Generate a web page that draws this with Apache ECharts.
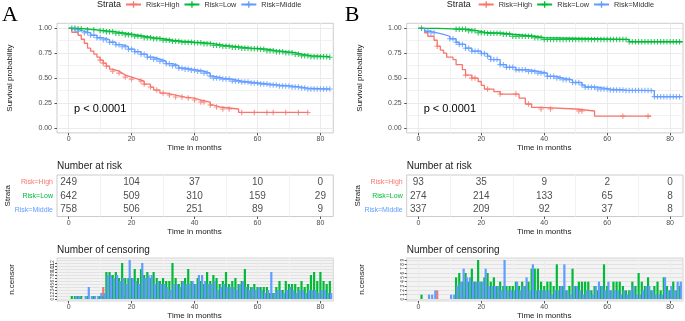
<!DOCTYPE html>
<html>
<head>
<meta charset="utf-8">
<script src="https://cdn.jsdelivr.net/npm/echarts@6/dist/echarts.min.js"></script>
<style>
html,body{margin:0;padding:0;background:#fff;}
#chart{width:685px;height:321px;}
</style>
</head>
<body>
<div id="chart"></div>
<script>
//分组与颜色
var strata = ['Risk=High', 'Risk=Low', 'Risk=Middle'];
var strataColor = ['#F8766D', '#00BA38', '#619CFF'];
var riskTimes = [0, 20, 40, 60, 80];

//A 组生存曲线 [月, 生存率]
var kmA_high = [[0,1],[1,0.96],[3,0.93],[4,0.89],[5,0.85],[6,0.80],[7,0.77],[8,0.74],[9,0.71],[10,0.68],[11,0.65],[12,0.62],[13,0.59],[14,0.57],[16,0.55],[17,0.53],[18,0.51],[20,0.49],[22,0.47],[24,0.44],[26,0.41],[27,0.38],[29,0.35],[31,0.33],[34,0.31],[37,0.30],[40,0.28],[42,0.26],[45,0.23],[46,0.21],[48,0.19],[54,0.155],[76,0.155]];
var kmA_low = [[0,1],[3,0.995],[6,0.985],[9,0.975],[12,0.965],[15,0.95],[18,0.935],[21,0.92],[24,0.905],[27,0.895],[30,0.88],[33,0.87],[36,0.86],[40,0.855],[43,0.845],[46,0.83],[49,0.82],[52,0.81],[55,0.80],[58,0.795],[61,0.79],[63,0.775],[66,0.765],[69,0.755],[72,0.74],[74,0.725],[77,0.715],[83,0.71]];
var kmA_mid = [[0,1],[1,0.99],[3,0.97],[5,0.955],[7,0.93],[9,0.905],[11,0.885],[13,0.86],[15,0.835],[17,0.815],[19,0.79],[21,0.765],[23,0.74],[25,0.71],[27,0.69],[29,0.67],[31,0.645],[33,0.625],[35,0.60],[37,0.59],[39,0.58],[41,0.57],[43,0.55],[45,0.52],[46,0.50],[49,0.49],[52,0.47],[55,0.46],[58,0.45],[61,0.44],[64,0.43],[67,0.42],[71,0.41],[74,0.40],[76,0.39],[83,0.39]];

//B 组生存曲线
var kmB_high = [[0,1],[2,0.955],[3,0.92],[5,0.88],[6,0.82],[7,0.78],[8,0.75],[9,0.71],[11,0.686],[12,0.635],[14,0.585],[15,0.53],[17,0.50],[19,0.466],[20,0.426],[21,0.39],[24,0.365],[26,0.34],[32,0.30],[34,0.24],[36,0.206],[39,0.19],[50,0.17],[56,0.118],[74,0.118]];
var kmB_low = [[0,1],[6,0.99],[16,0.975],[19,0.955],[22,0.95],[27,0.94],[30,0.92],[37,0.905],[40,0.888],[67,0.865],[84,0.865]];
var kmB_mid = [[0,1],[2,0.97],[4,0.955],[6,0.94],[8,0.92],[10,0.895],[12,0.86],[13,0.838],[15,0.80],[17,0.77],[20,0.747],[22,0.72],[23,0.686],[26,0.635],[28,0.608],[31,0.584],[35,0.567],[38,0.55],[41,0.517],[44,0.50],[46,0.483],[49,0.456],[52,0.43],[53,0.409],[57,0.39],[61,0.38],[66,0.375],[75,0.314],[84,0.31]];

//风险人数表
var riskA_high = [249, 104, 37, 10, 0];
var riskA_low = [642, 509, 310, 159, 29];
var riskA_mid = [758, 506, 251, 89, 9];
var riskB_high = [93, 35, 9, 2, 0];
var riskB_low = [274, 214, 133, 65, 8];
var riskB_mid = [337, 209, 92, 37, 8];

//删失人数，下标为月份 0-83
var censA_high = [0,0,0,0,0,0,0,0,0,0,1,4,1,0,1,0,1,0,1,0,1,0,0,1,1,0,1,0,1,0,1,0,1,0,1,0,1,0,1,0,1,0,1,1,0,1,0,1,0,1,0,1,0,0,0,1,0,0,0,1,0,0,0,1,0,1,0,0,0,1,0,0,0,1,0,0,1,0,0,0,0,0,0,0];
var censA_low = [0,1,1,1,1,0,1,0,1,0,1,1,9,9,8,9,7,12,7,7,7,10,7,10,8,9,7,9,7,6,7,6,6,12,7,5,6,7,10,6,5,7,6,5,9,6,8,7,5,6,9,5,6,7,5,6,10,5,4,5,4,4,4,4,2,2,4,6,3,6,5,5,5,4,6,4,5,8,9,6,9,6,5,6];
var censA_mid = [0,0,1,1,0,1,4,1,1,1,2,2,8,8,7,8,6,7,5,13,7,6,5,12,7,8,8,5,6,5,5,4,3,5,5,4,6,5,5,6,5,8,8,6,5,5,6,3,4,5,4,4,4,3,5,6,4,3,4,3,4,3,2,3,9,2,3,3,2,3,4,3,2,3,3,2,3,3,3,2,3,3,2,2];
var censB_high = [0,0,0,0,0,0,2,0,0,0,0,0,0,0,0,1,0,1,1,0,0,0,3,0,0,0,1,0,0,0,0,1,0,0,0,1,0,0,0,2,0,0,1,0,0,0,0,0,0,0,0,1,1,0,0,0,0,0,0,0,0,0,0,0,0,1,0,0,0,0,0,0,0,1,0,0,0,0,0,0,0,0,0,0];
var censB_low = [0,1,0,0,0,0,0,0,0,0,0,0,5,6,4,6,4,7,4,9,4,5,6,4,5,3,4,3,3,3,3,4,3,4,3,4,7,7,7,4,3,4,4,3,8,3,3,2,3,7,3,4,4,4,4,2,3,2,3,8,3,2,4,4,4,3,2,2,4,3,6,4,3,5,2,3,4,2,5,3,2,4,2,3];
var censB_mid = [0,0,0,1,1,2,0,0,0,0,1,1,3,4,7,5,5,4,4,4,4,7,3,3,3,3,2,9,2,2,2,4,2,3,5,2,8,2,2,2,2,2,1,2,2,3,8,2,1,3,3,2,1,2,2,1,3,4,3,2,4,2,2,2,1,2,1,2,3,1,1,2,3,3,2,1,1,1,5,2,3,2,4,4];

var XMIN = -3.7, XMAX = 84.1;
var FONT = '"Liberation Sans", Arial, sans-serif';
var plusPath = 'path://M0,2.4H6V3.6H0Z M2.4,0H3.6V6H2.4Z';
var gridColor = '#ebebeb';

var option = {
	animation: false,
	backgroundColor: '#ffffff',
	textStyle: { fontFamily: FONT },
	grid: [], xAxis: [], yAxis: [], series: [], legend: [], graphic: []
};

/*
 * 阶梯曲线在某时刻的取值
 */
function survAt(curve, t){
	var s = curve[0][1];
	for (var i = 0; i < curve.length; i++){
		if (curve[i][0] <= t) s = curve[i][1];
	}
	return s;
}
function censorMarks(curve, counts){
	var out = [], end = curve[curve.length - 1][0];
	for (var t = 0; t < counts.length; t++){
		if (counts[t] > 0 && t <= end) out.push([t, survAt(curve, t)]);
	}
	return out;
}
function censorBars(counts, shift){
	var out = [];
	for (var t = 0; t < counts.length; t++){
		if (counts[t] > 0) out.push([t + shift, counts[t]]);
	}
	return out;
}
function addAxes(rect, extra, xa, ya){
	var gi = option.grid.length;
	var g = { left: rect[0], top: rect[1], width: rect[2], height: rect[3], outerBoundsMode: 'none' };
	for (var k in (extra || {})) g[k] = extra[k];
	option.grid.push(g);
	xa.gridIndex = gi; ya.gridIndex = gi;
	option.xAxis.push(xa); option.yAxis.push(ya);
	return gi;
}
function hidden(min, max){
	var a = { type: 'value', show: false };
	if (min !== undefined){ a.min = min; a.max = max; }
	return a;
}
function timeAxis(showMajor){
	return {
		type: 'value', min: 0, max: 80, interval: 20, position: 'bottom', z: 1,
		axisLine: { show: false },
		axisTick: { show: true, length: 2.5, lineStyle: { color: '#555' } },
		axisLabel: { fontSize: 7, color: '#4d4d4d', margin: 3 },
		splitLine: { show: showMajor, lineStyle: { color: gridColor, width: 1 } },
		minorTick: { show: false, splitNumber: 2 },
		minorSplitLine: { show: true, lineStyle: { color: '#f2f2f2', width: 1 } },
		name: 'Time in months', nameLocation: 'middle', nameGap: 11, nameMoveOverlap: false,
		nameTextStyle: { fontSize: 8, color: '#1a1a1a' }
	};
}

function buildPanel(dx, letter, km, risk, cens, censMax){
	var FL = 57 + dx, FW = 276.3;
	var xpx = function(v){ return FL + (v - XMIN) / (XMAX - XMIN) * FW; };
	var x0 = xpx(0), w80 = xpx(80) - x0;
	var frameStyle = { show: true, borderColor: '#cccccc', borderWidth: 1, backgroundColor: '#fff' };

	//生存曲线
	var kmTop = 23.3, kmH = 109.6;
	var gKm = addAxes([FL, kmTop, FW, kmH], frameStyle, hidden(XMIN, XMAX), hidden(-0.05, 1.05));
	addAxes([x0, kmTop, w80, kmH], null, timeAxis(true), hidden());
	addAxes([FL, kmTop + kmH * 0.05 / 1.1, FW, kmH / 1.1], null, hidden(), {
		type: 'value', min: 0, max: 1, interval: 0.25, z: 1,
		axisLine: { show: false },
		axisTick: { show: true, length: 2.5, lineStyle: { color: '#555' } },
		axisLabel: { fontSize: 7, color: '#4d4d4d', margin: 5, formatter: function(v){ return v.toFixed(2); } },
		splitLine: { show: true, lineStyle: { color: gridColor } },
		minorTick: { show: false, splitNumber: 2 },
		minorSplitLine: { show: true, lineStyle: { color: '#f2f2f2' } },
		name: 'Survival probability', nameLocation: 'middle', nameGap: 43, nameMoveOverlap: false,
		nameTextStyle: { fontSize: 8, color: '#1a1a1a' }
	});
	for (var i = 0; i < 3; i++){
		option.series.push({
			type: 'line', name: strata[i], step: 'end', data: km[i],
			xAxisIndex: gKm, yAxisIndex: gKm,
			symbol: plusPath, symbolSize: 6, showSymbol: false,
			lineStyle: { width: 1.3, color: strataColor[i] },
			itemStyle: { color: strataColor[i] }, z: 3
		});
	}
	for (var i = 0; i < 3; i++){
		option.series.push({
			type: 'scatter', name: 'mark' + letter + i, data: censorMarks(km[i], cens[i]),
			xAxisIndex: gKm, yAxisIndex: gKm,
			symbol: plusPath, symbolSize: 5.5,
			itemStyle: { color: strataColor[i] }, z: 4
		});
	}

	//风险人数表
	var rTop = 175, rH = 41.5;
	var gRisk = addAxes([FL, rTop, FW, rH], frameStyle, hidden(XMIN, XMAX), {
		type: 'category', data: strata, inverse: true,
		axisLine: { show: false }, axisTick: { show: false },
		axisLabel: { fontSize: 7, margin: 4, color: function(v, idx){ return strataColor[strata.indexOf(v)]; } },
		name: 'Strata', nameLocation: 'middle', nameGap: 45, nameMoveOverlap: false,
		nameTextStyle: { fontSize: 8, color: '#1a1a1a' }
	});
	addAxes([x0, rTop, w80, rH], null, timeAxis(false), hidden());
	for (var i = 0; i < 3; i++){
		var pts = [];
		for (var j = 0; j < riskTimes.length; j++) pts.push([riskTimes[j], strata[i], risk[i][j]]);
		option.series.push({
			type: 'scatter', name: 'risk' + letter + i, data: pts,
			xAxisIndex: gRisk, yAxisIndex: gRisk,
			symbolSize: 1, itemStyle: { color: 'rgba(0,0,0,0)' }, z: 5,
			label: { show: true, position: 'inside', fontSize: 10, color: '#222', formatter: function(p){ return p.value[2]; } }
		});
	}

	//删失人数
	var cTop = 258, cH = 43, cZero = 299, cTopVal = 260;
	var unit = (cZero - cTopVal) / censMax;
	var gCens = addAxes([FL, cTop, FW, cH], { show: true, borderColor: '#d6d6d6', borderWidth: 1, backgroundColor: '#f3f3f3' },
		hidden(XMIN, XMAX), hidden(-(cTop + cH - cZero) / unit, censMax + (cTopVal - cTop) / unit));
	addAxes([x0, cTop, w80, cH], null, timeAxis(true), hidden());
	addAxes([FL, cTopVal, FW, cZero - cTopVal], null, hidden(), {
		type: 'value', min: 0, max: censMax, interval: 1, z: 1,
		axisLine: { show: false },
		axisTick: { show: true, length: 2, lineStyle: { color: '#555' } },
		axisLabel: { fontSize: 5, color: '#4d4d4d', margin: 2, rotate: 90 },
		splitLine: { show: true, lineStyle: { color: '#e2e2e2' } },
		name: 'n.censor', nameLocation: 'middle', nameGap: 41, nameMoveOverlap: false,
		nameTextStyle: { fontSize: 8, color: '#1a1a1a' }
	});
	var shifts = [0, 0, 0.4];
	for (var i = 0; i < 3; i++){
		option.series.push({
			type: 'bar', name: 'cens' + letter + i, data: censorBars(cens[i], shifts[i]),
			xAxisIndex: gCens, yAxisIndex: gCens,
			barWidth: 2.2, barGap: '-100%',
			itemStyle: { color: strataColor[i] }, z: 2 + i * 0.1
		});
	}

	//图例和文字
	option.legend.push({
		left: 125 + dx + (dx ? 3 : 0), top: 1, padding: 0,
		itemWidth: 15, itemHeight: 8, itemGap: 4, selectedMode: false,
		textStyle: { fontSize: 7.3, color: '#333' },
		data: strata
	});
	option.graphic.push(
		{ type: 'text', z: 20, left: 2 + dx * 0.98, top: 4, style: { text: letter, fontSize: 22, fontFamily: '"Liberation Serif", "DejaVu Serif", serif', fill: '#000' } },
		{ type: 'text', z: 20, x: 97 + dx, y: 4.5, style: { text: 'Strata', fontSize: 9, fill: '#1a1a1a', verticalAlign: 'middle' } },
		{ type: 'text', z: 20, x: 74 + dx, y: 109, style: { text: 'p < 0.0001', fontSize: 11, fill: '#000', verticalAlign: 'middle' } },
		{ type: 'text', z: 20, x: FL, y: 166, style: { text: 'Number at risk', fontSize: 10, fill: '#222', verticalAlign: 'middle' } },
		{ type: 'text', z: 20, x: FL, y: 250, style: { text: 'Number of censoring', fontSize: 10, fill: '#222', verticalAlign: 'middle' } }
	);
}

buildPanel(0, 'A',
	[kmA_high, kmA_low, kmA_mid],
	[riskA_high, riskA_low, riskA_mid],
	[censA_high, censA_low, censA_mid], 13);
buildPanel(349.7, 'B',
	[kmB_high, kmB_low, kmB_mid],
	[riskB_high, riskB_low, riskB_mid],
	[censB_high, censB_low, censB_mid], 9);

var chart = echarts.init(document.getElementById('chart'), null, { renderer: 'canvas' });
chart.setOption(option);
</script>
</body>
</html>
